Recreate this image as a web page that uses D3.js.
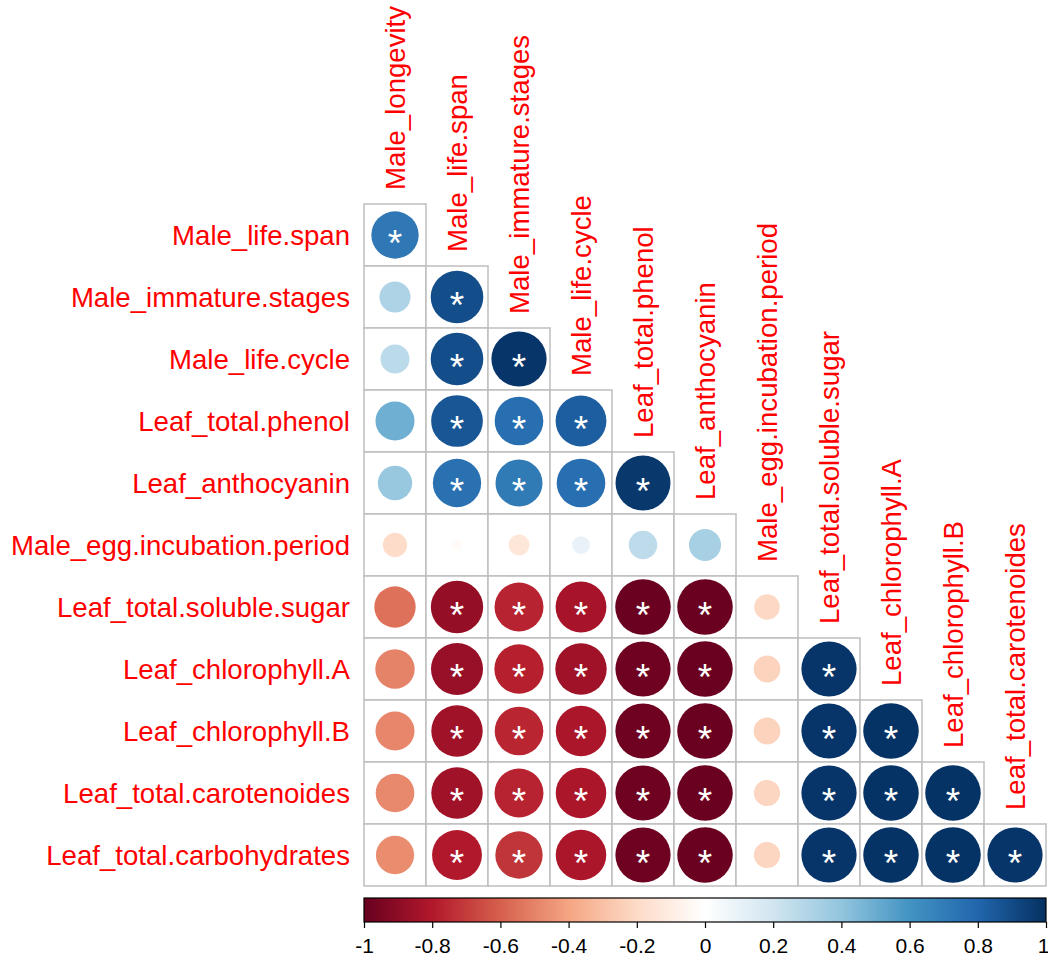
<!DOCTYPE html>
<html>
<head>
<meta charset="utf-8">
<script src="https://cdn.jsdelivr.net/npm/d3@7"></script>
<style>
  html, body { margin: 0; padding: 0; background: #fff; }
  svg { display: block; }
</style>
</head>
<body>
<svg id="chart" width="1048" height="963"></svg>
<script>
// ---- data ----
const variables = [
  "Male_longevity", "Male_life.span", "Male_immature.stages", "Male_life.cycle",
  "Leaf_total.phenol", "Leaf_anthocyanin", "Male_egg.incubation.period",
  "Leaf_total.soluble.sugar", "Leaf_chlorophyll.A", "Leaf_chlorophyll.B",
  "Leaf_total.carotenoides", "Leaf_total.carbohydrates"
];
// lower triangle: row i holds correlations with variables 0..i-1
const corrRows = [
  [],
  [0.72],
  [0.31, 0.89],
  [0.27, 0.89, 0.98],
  [0.49, 0.86, 0.76, 0.83],
  [0.38, 0.75, 0.71, 0.76, 0.97],
  [-0.19, -0.03, -0.14, 0.10, 0.26, 0.33],
  [-0.55, -0.88, -0.77, -0.83, -0.99, -0.99, -0.21],
  [-0.50, -0.87, -0.78, -0.85, -0.98, -0.99, -0.23, 0.98],
  [-0.49, -0.85, -0.76, -0.82, -0.98, -0.99, -0.23, 0.98, 0.99],
  [-0.48, -0.85, -0.77, -0.82, -0.98, -0.99, -0.22, 0.98, 0.99, 0.99],
  [-0.47, -0.80, -0.72, -0.82, -0.98, -0.99, -0.22, 0.98, 0.99, 0.99, 0.98]
];
// significance stars (1 = "*")
const sigRows = [
  [],
  [1],
  [0, 1],
  [0, 1, 1],
  [0, 1, 1, 1],
  [0, 1, 1, 1, 1],
  [0, 0, 0, 0, 0, 0],
  [0, 1, 1, 1, 1, 1, 0],
  [0, 1, 1, 1, 1, 1, 0, 1],
  [0, 1, 1, 1, 1, 1, 0, 1, 1],
  [0, 1, 1, 1, 1, 1, 0, 1, 1, 1],
  [0, 1, 1, 1, 1, 1, 0, 1, 1, 1, 1]
];
const legendTicks = [-1, -0.8, -0.6, -0.4, -0.2, 0, 0.2, 0.4, 0.6, 0.8, 1];
const paletteStops = ["#67001F", "#B2182B", "#D6604D", "#F4A582", "#FDDBC7", "#FFFFFF",
                      "#D1E5F0", "#92C5DE", "#4393C3", "#2166AC", "#053061"];

// ---- layout ----
const svg = d3.select("#chart");
const rowVars = variables.slice(1);      // 11 rows
const colVars = variables.slice(0, 11);  // 11 cols
const gridLeft = 364, gridTop = 204, cell = 62;
const n = 11;

const x = d3.scaleBand().domain(colVars).range([gridLeft, gridLeft + n * cell]).padding(0);
const y = d3.scaleBand().domain(rowVars).range([gridTop, gridTop + n * cell]).padding(0);
const color = d3.scaleLinear().domain(legendTicks).range(paletteStops).interpolate(d3.interpolateRgb);
const rScale = v => 0.9 * cell / 2 * Math.sqrt(Math.abs(v));

const cells = [];
corrRows.forEach((row, i) => {
  row.forEach((v, j) => {
    cells.push({ row: variables[i], col: variables[j], v, sig: sigRows[i][j] });
  });
});

const labelFont = "'Liberation Sans', Arial, sans-serif";

// grid cells
svg.append("g").selectAll("rect").data(cells).join("rect")
  .attr("x", d => x(d.col))
  .attr("y", d => y(d.row))
  .attr("width", x.bandwidth())
  .attr("height", y.bandwidth())
  .attr("fill", "#fff")
  .attr("stroke", "#BEBEBE")
  .attr("stroke-width", 1.5);

// circles
svg.append("g").selectAll("circle").data(cells).join("circle")
  .attr("cx", d => x(d.col) + x.bandwidth() / 2)
  .attr("cy", d => y(d.row) + y.bandwidth() / 2)
  .attr("r", d => rScale(d.v))
  .attr("fill", d => color(d.v));

// stars
svg.append("g").selectAll("text").data(cells.filter(d => d.sig)).join("text")
  .attr("x", d => x(d.col) + x.bandwidth() / 2)
  .attr("y", d => y(d.row) + y.bandwidth() / 2 + 21)
  .attr("text-anchor", "middle")
  .attr("font-family", labelFont)
  .attr("font-size", 37)
  .attr("fill", "#fff")
  .text("*");

// row labels
svg.append("g").selectAll("text").data(rowVars).join("text")
  .attr("x", gridLeft - 14)
  .attr("y", d => y(d) + y.bandwidth() / 2)
  .attr("dy", "0.35em")
  .attr("text-anchor", "end")
  .attr("font-family", labelFont)
  .attr("font-size", 27.6)
  .attr("fill", "#FF0000")
  .text(d => d);

// column labels (rotated), placed just above the first cell of each column
svg.append("g").selectAll("text").data(colVars).join("text")
  .attr("transform", (d, j) => {
    const cx = x(d) + x.bandwidth() / 2;
    const top = y(rowVars[j]) - 14;
    return `translate(${cx},${top}) rotate(-90)`;
  })
  .attr("dy", "0.35em")
  .attr("text-anchor", "start")
  .attr("font-family", labelFont)
  .attr("font-size", 27.6)
  .attr("fill", "#FF0000")
  .text(d => d);

// ---- colour legend ----
const legTop = 898, legH = 24;
const lx = d3.scaleLinear().domain([-1, 1]).range([gridLeft, gridLeft + n * cell]);
const defs = svg.append("defs");
const grad = defs.append("linearGradient").attr("id", "cgrad")
  .attr("x1", "0%").attr("x2", "100%").attr("y1", "0%").attr("y2", "0%");
grad.selectAll("stop").data(legendTicks).join("stop")
  .attr("offset", d => ((d + 1) / 2 * 100) + "%")
  .attr("stop-color", d => color(d));
svg.append("rect")
  .attr("x", lx(-1)).attr("y", legTop)
  .attr("width", lx(1) - lx(-1)).attr("height", legH)
  .attr("fill", "url(#cgrad)")
  .attr("stroke", "#000").attr("stroke-width", 1.2);

const axis = d3.axisBottom(lx).tickValues(legendTicks).tickSize(6).tickPadding(6)
  .tickFormat(d => (d === 0 ? "0" : d3.format("")(d)).replace("−", "-"));
const ag = svg.append("g").attr("transform", `translate(0,${legTop + legH})`).call(axis);
ag.select(".domain").remove();
ag.selectAll(".tick line").attr("stroke", "#000").attr("stroke-width", 1.2);
ag.selectAll(".tick text")
  .attr("font-family", labelFont)
  .attr("font-size", 21)
  .attr("fill", "#000")
  .attr("dy", "0.9em")
  .attr("dx", d => (d === 1 ? -3 : 0));
</script>
</body>
</html>
